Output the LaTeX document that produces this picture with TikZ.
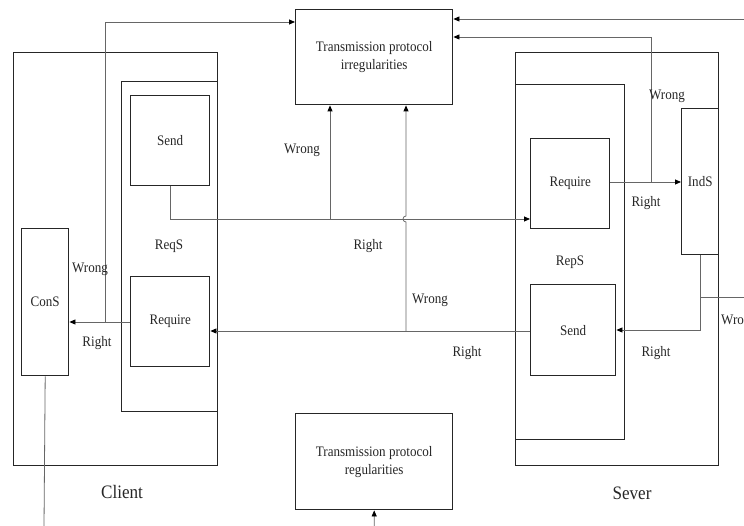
\documentclass[tikz,border=0pt]{standalone}
\usepackage{fontspec}
\setmainfont{Liberation Serif}[FakeStretch=0.9]
\usetikzlibrary{arrows.meta}
\begin{document}
\begin{tikzpicture}[x=1pt,y=-1pt,
  box/.style={draw=black!85, line width=1.4pt, anchor=north west, inner sep=0pt,
    text=black!85, align=center, font=\fontsize{14.5}{18}\selectfont},
  link/.style={draw=black!60, line width=0.8pt},
  tip/.style={-{Triangle[length=6pt,width=5pt,color=black]}},
  lbl/.style={text=black!85, inner sep=0pt, font=\fontsize{14.5}{18}\selectfont},
  big/.style={text=black!85, inner sep=0pt, font=\fontsize{19}{22}\selectfont}]
\useasboundingbox (0,0) rectangle (744,526);
\clip (0,0) rectangle (744,526);

% client side
\node[box, minimum width=204pt, minimum height=413pt] (client) at (13,52) {};
\node[box, minimum width=96pt, minimum height=330pt] (reqs) at (121,81) {};
\node[box, minimum width=79pt, minimum height=90pt] (csend) at (130,95) {Send};
\node[box, minimum width=79pt, minimum height=90pt] (creq) at (130,276) {Require};
\node[box, minimum width=47pt, minimum height=147pt] (cons) at (21,228) {ConS};

% server side
\node[box, minimum width=203pt, minimum height=413pt] (server) at (515,52) {};
\node[box, minimum width=109pt, minimum height=355pt] (reps) at (515,84) {};
\node[box, minimum width=79pt, minimum height=90pt] (sreq) at (530,138) {Require};
\node[box, minimum width=85pt, minimum height=91pt] (ssend) at (530,284) {Send};
\node[box, minimum width=37pt, minimum height=146pt] (inds) at (681,108) {IndS};

% protocol boxes
\node[box, minimum width=157pt, minimum height=95pt] (irr) at (295,9)
  {Transmission protocol\\irregularities};
\node[box, minimum width=157pt, minimum height=96pt] (reg) at (295,413)
  {Transmission protocol\\regularities};

% junction and bend points
\coordinate (j1) at (330,219);
\coordinate (hop) at (406,219);
\coordinate (j2) at (406,331);
\coordinate (j3) at (105,322);
\coordinate (t3) at (105,22);
\coordinate (j4) at (651,182);
\coordinate (t4) at (651,37);
\coordinate (d5) at (700,330);
\coordinate (j6) at (700,297);
\coordinate (e6) at (752,297);
\coordinate (e6t) at (752,19);
\coordinate (b7) at (44,526.4);

% client Send -> server Require, with the wrong branch
\draw[link,tip] (csend.south) |- (sreq.west |- j1);
\draw[link,tip] (j1) -- (irr.south -| j1);

% server Send -> client Require, with the wrong branch hopping over
\draw[link,tip] (ssend.west |- j2) -- (creq.east |- j2);
\draw[link,tip] (j2) -- ([yshift=-3pt]hop) arc[start angle=90, end angle=270, radius=3]
  -- (irr.south -| j2);

% client Require -> ConS
\draw[link,tip] (creq.west |- j3) -- (cons.east |- j3);
\draw[link,tip] (j3) -- (t3) -- (irr.west |- t3);

% server Require -> IndS
\draw[link,tip] (sreq.east |- j4) -- (inds.west |- j4);
\draw[link,tip] (j4) -- (t4) -- (irr.east |- t4);

% IndS -> server Send
\draw[link,tip] (inds.south -| d5) -- (d5) -- (ssend.east |- d5);
\draw[link,tip] (j6) -- (e6) -- (e6t) -- (irr.east |- e6t);

% ConS -> regularities
\draw[link,tip] (cons.south) -- (b7) -| (reg.south);

% labels
\node[lbl] at (169,246) {ReqS};
\node[lbl] at (570,262) {RepS};
\node[lbl] at (90,269) {Wrong};
\node[lbl] at (97,343) {Right};
\node[lbl] at (302,150) {Wrong};
\node[lbl] at (368,246) {Right};
\node[lbl] at (430,300) {Wrong};
\node[lbl] at (467,353) {Right};
\node[lbl] at (646,203) {Right};
\node[lbl] at (667,96) {Wrong};
\node[lbl] at (656,353) {Right};
\node[lbl, anchor=west] at (721,321) {Wrong};
\node[big] at (122,492) {Client};
\node[big] at (632,493) {Sever};
\end{tikzpicture}
\end{document}
